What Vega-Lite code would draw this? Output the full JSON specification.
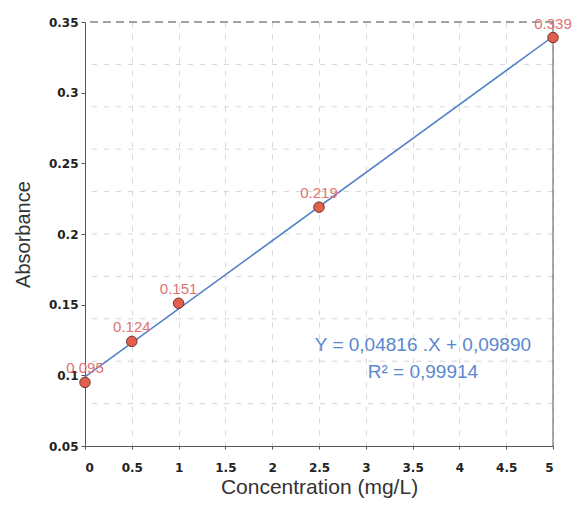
{
  "$schema": "https://vega.github.io/schema/vega-lite/v6.json",
  "width": 468,
  "height": 424,
  "autosize": "none",
  "padding": {"left": 85, "top": 22, "right": 26, "bottom": 62},
  "background": "white",
  "config": {"view": {"stroke": null}},
  "datasets": {
    "pts": [
      {"conc": 0, "abs": 0.095, "label": "0.095"},
      {"conc": 0.5, "abs": 0.124, "label": "0.124"},
      {"conc": 1, "abs": 0.151, "label": "0.151"},
      {"conc": 2.5, "abs": 0.219, "label": "0.219"},
      {"conc": 5, "abs": 0.339, "label": "0.339"}
    ],
    "grid": [
      {"g": 0.08}, {"g": 0.11}, {"g": 0.14}, {"g": 0.17}, {"g": 0.2},
      {"g": 0.23}, {"g": 0.26}, {"g": 0.29}, {"g": 0.32}
    ],
    "one": [{"k": 1}]
  },
  "layer": [
    {
      "data": {"name": "grid"},
      "mark": {"type": "rule", "color": "#d6d6d6", "strokeDash": [5, 7], "strokeWidth": 1},
      "encoding": {
        "y": {"field": "g", "type": "quantitative", "scale": {"domain": [0.05, 0.35], "nice": false}}
      }
    },
    {
      "data": {"name": "pts"},
      "mark": {"type": "point", "opacity": 0},
      "encoding": {
        "x": {
          "field": "conc", "type": "quantitative",
          "scale": {"domain": [0, 5], "nice": false},
          "axis": {
            "title": "Concentration (mg/L)", "values": [0, 0.5, 1, 1.5, 2, 2.5, 3, 3.5, 4, 4.5, 5],
            "format": "~g",
            "grid": true, "gridColor": "#d6d6d6", "gridDash": [5, 7],
            "domainColor": "#555", "tickColor": "#555", "tickSize": 3,
            "labelFont": "DejaVu Sans", "labelFontWeight": "bold", "labelFontSize": 12, "labelColor": "#222",
            "labelPadding": 13,
            "titleFont": "Liberation Sans", "titleFontSize": 21, "titleFontWeight": "normal", "titleColor": "#333",
            "titlePadding": 3
          }
        },
        "y": {
          "field": "abs", "type": "quantitative",
          "scale": {"domain": [0.05, 0.35], "nice": false, "zero": false},
          "axis": {
            "title": "Absorbance", "values": [0.05, 0.1, 0.15, 0.2, 0.25, 0.3, 0.35],
            "format": "~g",
            "grid": false,
            "domainColor": "#555", "tickColor": "#555", "tickSize": 4,
            "labelFont": "DejaVu Sans", "labelFontWeight": "bold", "labelFontSize": 12, "labelColor": "#222",
            "labelPadding": 3,
            "titleFont": "Liberation Sans", "titleFontSize": 20, "titleFontWeight": "normal", "titleColor": "#333",
            "titlePadding": 15
          }
        }
      }
    },
    {
      "data": {"name": "one"},
      "mark": {"type": "rule", "color": "#444", "strokeDash": [8, 5], "strokeWidth": 1},
      "encoding": {"y": {"datum": 0.35}}
    },
    {
      "data": {"name": "one"},
      "mark": {"type": "rule", "color": "#555", "strokeWidth": 1},
      "encoding": {"x": {"datum": 5}}
    },
    {
      "data": {"name": "pts"},
      "transform": [{"regression": "abs", "on": "conc", "extent": [0, 5]}],
      "mark": {"type": "line", "color": "#4f7fc8", "strokeWidth": 1.5},
      "encoding": {
        "x": {"field": "conc", "type": "quantitative"},
        "y": {"field": "abs", "type": "quantitative"}
      }
    },
    {
      "data": {"name": "pts"},
      "mark": {"type": "point", "filled": true, "size": 110, "color": "#e0604e", "stroke": "#7a3028", "strokeWidth": 1, "opacity": 1},
      "encoding": {
        "x": {"field": "conc", "type": "quantitative"},
        "y": {"field": "abs", "type": "quantitative"}
      }
    },
    {
      "data": {"name": "pts"},
      "mark": {"type": "text", "font": "Liberation Sans", "fontSize": 15, "color": "#e07272", "dy": -14, "align": "center", "baseline": "middle"},
      "encoding": {
        "x": {"field": "conc", "type": "quantitative"},
        "y": {"field": "abs", "type": "quantitative"},
        "text": {"field": "label"}
      }
    },
    {
      "data": {"name": "one"},
      "mark": {"type": "text", "text": ["Y = 0,04816 .X + 0,09890", "R² = 0,99914"], "font": "Liberation Sans", "fontSize": 19, "color": "#5a88d0", "align": "center", "baseline": "middle", "lineHeight": 27},
      "encoding": {"x": {"datum": 3.61}, "y": {"datum": 0.1214}}
    }
  ]
}
